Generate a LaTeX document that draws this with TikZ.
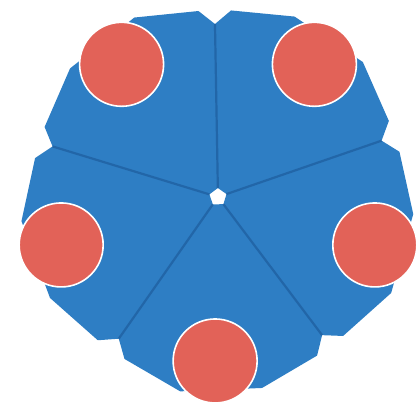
\documentclass[tikz,border=0pt]{standalone}
\usepackage{tikz}

\definecolor{petal}{RGB}{46,126,196}
\definecolor{seam}{RGB}{34,102,168}
\definecolor{spot}{RGB}{226,98,88}

\begin{document}
\begin{tikzpicture}[
  x=0.25mm, y=0.25mm,
  piece/.style={fill=petal},
  seamline/.style={draw=seam, line width=0.55mm},
  dot/.style={circle, fill=spot, draw=white, line width=0.4mm, inner sep=0pt, minimum size=21mm}
]
\useasboundingbox (-218,-207) rectangle (198,197);
\fill[white] (-218,-207) rectangle (198,197);
% five wedges round the hole
\foreach \a in {55,127,199,271,343}
  \fill[piece] ({\a-36}:9) -- ({\a-36}:173) -- ({\a-31}:187) -- ({\a-12}:198)
    -- ({\a+12}:196) -- ({\a+31}:187) -- ({\a+36}:173) -- ({\a+36}:9) -- cycle;
\foreach \a in {19,91,163,235,307}
  \draw[seamline] (\a:9) -- (\a:173);
% spots
\foreach \a/\n in {54/tr,126/tl,197/lf,269/bt,343/rt}
  \node[dot] (\n) at (\a:164) {};
\end{tikzpicture}
\end{document}
